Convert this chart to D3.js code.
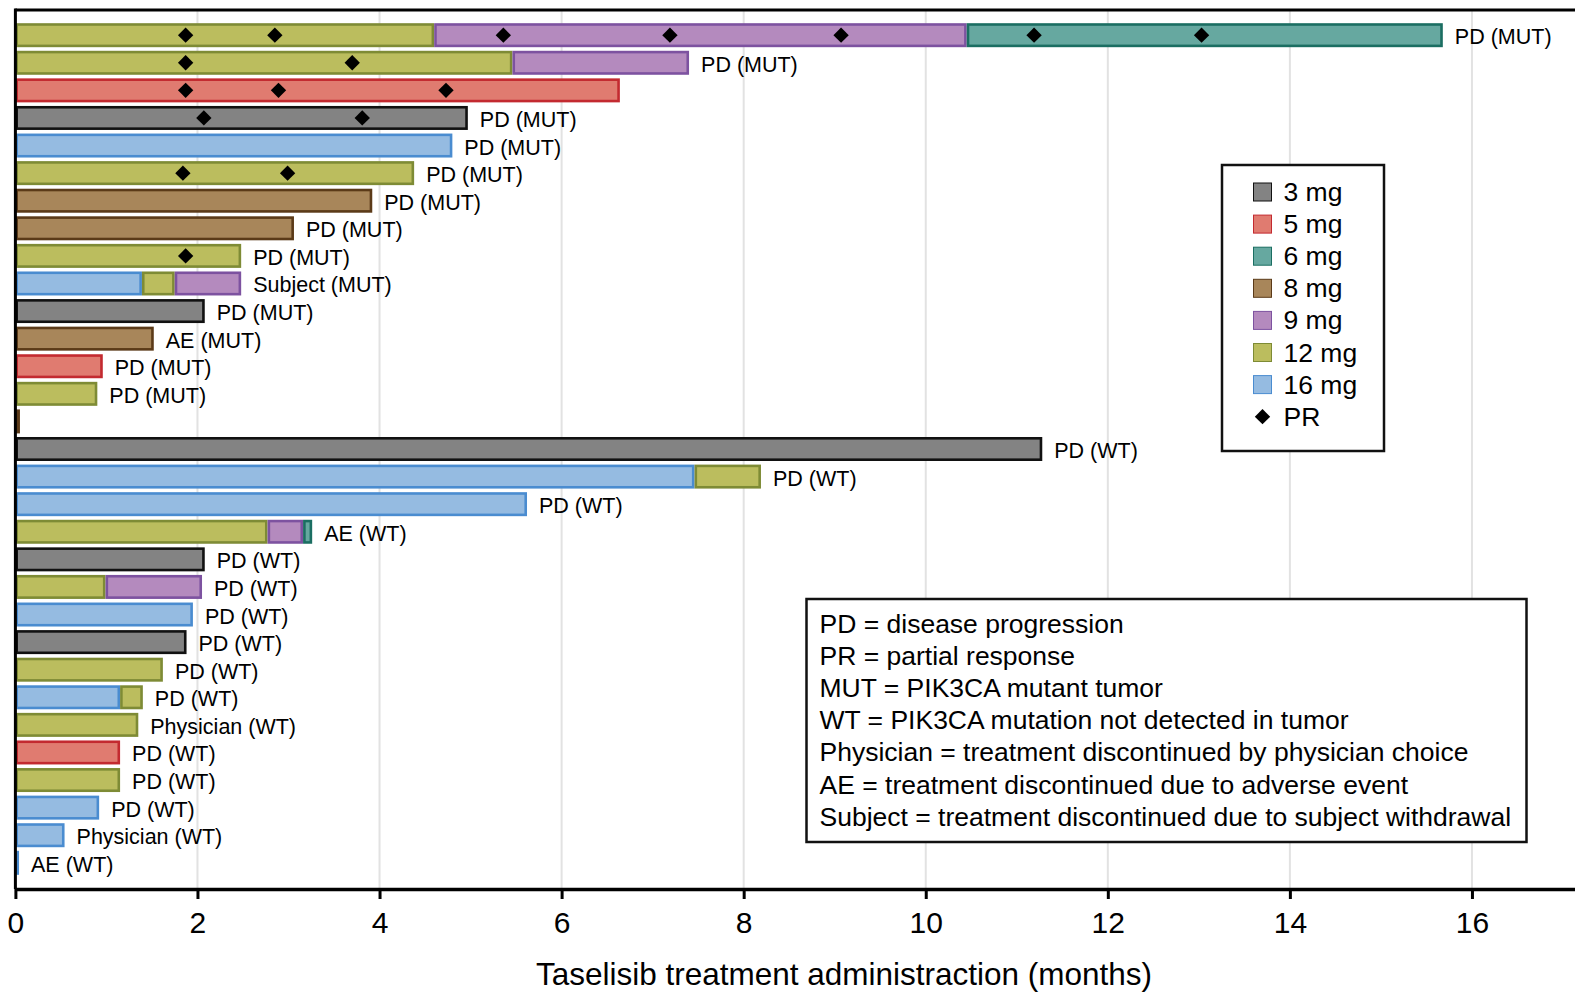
<!DOCTYPE html>
<html>
<head>
<meta charset="utf-8">
<script src="https://cdn.jsdelivr.net/npm/d3@7"></script>
<style>
  body { margin: 0; background: #fff; }
  svg { display: block; font-family: Arial, "Liberation Sans", sans-serif; }
</style>
</head>
<body>
<svg id="chart" width="1575" height="993"></svg>
<script>
// dose of each segment per patient, and the month each segment ends
const segDoses = [
  [12, 9, 6], [12, 9], [5], [3], [16], [12], [8], [8], [12], [16, 12, 9],
  [3], [8], [5], [12], [8],
  [3], [16, 12], [16], [12, 9, 6], [3], [12, 9], [16], [3], [12], [16, 12],
  [12], [5], [12], [16], [16], [16]
];
const segEnds = [
  [4.60, 10.45, 15.68], [5.46, 7.40], [6.64], [4.97], [4.80], [4.38], [3.92], [3.06], [2.48], [1.39, 1.75, 2.48],
  [2.08], [1.52], [0.96], [0.90], [0.05],
  [11.28], [7.46, 8.19], [5.62], [2.77, 3.16, 3.26], [2.08], [0.99, 2.05], [1.95], [1.88], [1.62], [1.15, 1.40],
  [1.35], [1.15], [1.15], [0.92], [0.54], [0.04]
];
const reasons = [
  'PD (MUT)', 'PD (MUT)', '', 'PD (MUT)', 'PD (MUT)', 'PD (MUT)', 'PD (MUT)', 'PD (MUT)', 'PD (MUT)', 'Subject (MUT)',
  'PD (MUT)', 'AE (MUT)', 'PD (MUT)', 'PD (MUT)', '',
  'PD (WT)', 'PD (WT)', 'PD (WT)', 'AE (WT)', 'PD (WT)', 'PD (WT)', 'PD (WT)', 'PD (WT)', 'PD (WT)', 'PD (WT)',
  'Physician (WT)', 'PD (WT)', 'PD (WT)', 'PD (WT)', 'Physician (WT)', 'AE (WT)'
];
// months at which a partial response was recorded
const prTimes = [
  [1.87, 2.85, 5.36, 7.19, 9.07, 11.19, 13.03], [1.87, 3.70], [1.87, 2.89, 4.73], [2.07, 3.81], [], [1.84, 2.99],
  [], [], [1.87]
];
const doseLevels = [3, 5, 6, 8, 9, 12, 16];
const xTicks = [0, 2, 4, 6, 8, 10, 12, 14, 16];
const notes = [
  'PD = disease progression',
  'PR = partial response',
  'MUT = PIK3CA mutant tumor',
  'WT = PIK3CA mutation not detected in tumor',
  'Physician = treatment discontinued by physician choice',
  'AE = treatment discontinued due to adverse event',
  'Subject = treatment discontinued due to subject withdrawal'
];

const fillOf = {3: '#838383', 5: '#e07b70', 6: '#66a8a0', 8: '#a8865a', 9: '#b48abe', 12: '#bbbd5e', 16: '#95bbe1'};
const strokeOf = {3: '#111111', 5: '#c32a30', 6: '#1b6e62', 8: '#5b3a18', 9: '#7d52a0', 12: '#7e8b35', 16: '#4a8cd0'};

const svg = d3.select('#chart');
const plotTop = 10, plotBottom = 889, plotLeft = 15.4, plotRight = 1575;

const x = d3.scaleLinear().domain([0, 17.132]).range([plotLeft, plotRight]);
const rows = d3.range(segDoses.length);
const y = d3.scaleBand().domain(rows).range([21.4, 876.6]).paddingInner(0.13).paddingOuter(0.065);

// grid
svg.append('g').selectAll('line').data(xTicks.slice(1)).enter().append('line')
  .attr('x1', d => x(d)).attr('x2', d => x(d))
  .attr('y1', plotTop).attr('y2', plotBottom)
  .attr('stroke', '#e2e2e2').attr('stroke-width', 2);

// bars
const sw = 2.6;
const bars = [];
rows.forEach(i => {
  let start = 0;
  segDoses[i].forEach((dose, j) => {
    bars.push({row: i, dose: dose, start: start, end: segEnds[i][j]});
    start = segEnds[i][j];
  });
});
svg.append('g').selectAll('rect').data(bars).enter().append('rect')
  .attr('x', d => x(d.start) + sw / 2)
  .attr('y', d => y(d.row) + sw / 2)
  .attr('width', d => Math.max(0.5, x(d.end) - x(d.start) - sw))
  .attr('height', y.bandwidth() - sw)
  .attr('fill', d => fillOf[d.dose])
  .attr('stroke', d => strokeOf[d.dose])
  .attr('stroke-width', sw);

// partial responses
const prPoints = [];
prTimes.forEach((ts, i) => ts.forEach(t => prPoints.push({row: i, t: t})));
const diamond = d3.symbol().type(d3.symbolDiamond2).size(150);
svg.append('g').selectAll('path').data(prPoints).enter().append('path')
  .attr('d', diamond)
  .attr('transform', d => `translate(${x(d.t)},${y(d.row) + y.bandwidth() / 2})`)
  .attr('fill', '#000');

// reason labels
svg.append('g').selectAll('text').data(rows.filter(i => reasons[i])).enter().append('text')
  .attr('x', i => x(d3.max(segEnds[i])) + 12)
  .attr('y', i => y(i) + y.bandwidth() / 2 + 2)
  .attr('dominant-baseline', 'central')
  .attr('font-size', 21.5)
  .text(i => reasons[i]);

// frame
svg.append('line').attr('x1', plotLeft).attr('x2', plotRight).attr('y1', plotTop).attr('y2', plotTop)
  .attr('stroke', '#000').attr('stroke-width', 3);
svg.append('line').attr('x1', plotLeft).attr('x2', plotLeft).attr('y1', plotTop - 1.5).attr('y2', plotBottom)
  .attr('stroke', '#000').attr('stroke-width', 3);

// x axis
const xAxis = d3.axisBottom(x).tickValues(xTicks).tickSize(10).tickSizeOuter(0).tickPadding(13);
const gx = svg.append('g').attr('transform', `translate(0,${plotBottom})`).call(xAxis);
gx.select('.domain').attr('stroke-width', 3.5);
gx.selectAll('.tick line').attr('stroke-width', 3);
gx.selectAll('.tick text').attr('font-size', 30).attr('font-family', 'Arial, "Liberation Sans", sans-serif').attr('fill', '#000');

svg.append('text')
  .attr('x', 844).attr('y', 985)
  .attr('text-anchor', 'middle')
  .attr('font-size', 31.5)
  .text('Taselisib treatment administraction (months)');

// dose legend
const lg = svg.append('g');
lg.append('rect').attr('x', 1222).attr('y', 165).attr('width', 162).attr('height', 286)
  .attr('fill', '#fff').attr('stroke', '#111').attr('stroke-width', 2.5);
const ly = i => 192 + i * 32.1;
lg.selectAll('rect.sw').data(doseLevels).enter().append('rect').attr('class', 'sw')
  .attr('x', 1253.5).attr('y', (d, i) => ly(i) - 9)
  .attr('width', 18).attr('height', 18)
  .attr('fill', d => fillOf[d]).attr('stroke', d => strokeOf[d]).attr('stroke-width', 1);
lg.selectAll('text.dl').data(doseLevels).enter().append('text').attr('class', 'dl')
  .attr('x', 1283.5).attr('y', (d, i) => ly(i))
  .attr('dominant-baseline', 'central')
  .attr('font-size', 26.5)
  .text(d => d + ' mg');
lg.append('path').attr('d', d3.symbol().type(d3.symbolDiamond2).size(150))
  .attr('transform', `translate(1262.5,${ly(doseLevels.length)})`).attr('fill', '#000');
lg.append('text').attr('x', 1283.5).attr('y', ly(doseLevels.length))
  .attr('dominant-baseline', 'central').attr('font-size', 26.5).text('PR');

// abbreviations box
const nb = svg.append('g');
nb.append('rect').attr('x', 806.5).attr('y', 599).attr('width', 720).attr('height', 243)
  .attr('fill', '#fff').attr('stroke', '#111').attr('stroke-width', 2.5);
nb.selectAll('text').data(notes).enter().append('text')
  .attr('x', 819.5).attr('y', (d, i) => 624 + i * 32.1)
  .attr('dominant-baseline', 'central')
  .attr('font-size', 26.5)
  .text(d => d);
</script>
</body>
</html>
